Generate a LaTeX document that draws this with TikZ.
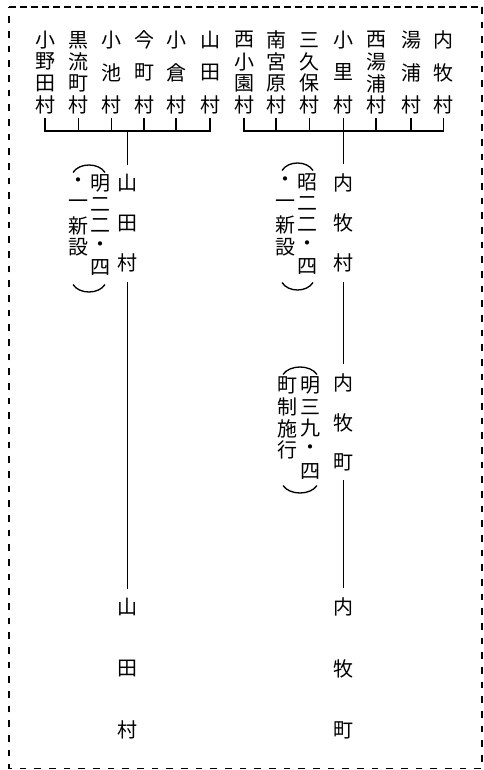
\documentclass[tikz,border=0pt]{standalone}
\usepackage{fontspec}
\setmainfont{Noto Sans CJK JP}
\newcommand\vcol[5]{\foreach \ch [count=\i from 0] in {#5} {\node[ch] (#1-\i) at (#2,{#3+\i*#4}) {\ch};}}
\newcommand\vcolm[5]{\foreach \ch [count=\i from 0] in {#5} {\node[ch,inner ysep=7pt] (#1-\i) at (#2,{#3+\i*#4}) {\ch};}}
\newcommand\parens[4]{%
  \draw[arcline] (#1,{#3+7.5}) .. controls ({#1+0.2*(#2-#1)},{#3-2.5}) and ({#2-0.2*(#2-#1)},{#3-2.5}) .. (#2,{#3+7.5});
  \draw[arcline] (#1,{#4-7.5}) .. controls ({#1+0.2*(#2-#1)},{#4+2.5}) and ({#2-0.2*(#2-#1)},{#4+2.5}) .. (#2,{#4-7.5});}
\begin{document}
\begin{tikzpicture}[x=0.75pt,y=-0.75pt,
  ch/.style={font=\fontsize{15}{15}\selectfont, inner sep=0pt},
  conn/.style={line width=1pt},
  arcline/.style={line width=1pt},
  frame/.style={line width=1pt}]
\useasboundingbox (0,0) rectangle (483,770);
% frame
\draw[frame, dash pattern=on 5.25pt off 3pt] (9,7) -- (482,7);
\draw[frame, dash pattern=on 5pt off 6pt] (482,7) -- (482,768.5) -- (9,768.5) -- (9,7);
% helper coordinates
\coordinate (tt) at (0,118);
\coordinate (lb) at (0,131);
% top villages, left group
\vcol{v1}{45}{40}{21.7}{小,野,田,村}
\vcol{v2}{78.3}{40}{21.7}{黒,流,町,村}
\vcol{v3}{111.7}{40}{32.5}{小,池,村}
\vcol{v4}{144}{40}{32.5}{今,町,村}
\vcol{v5}{176}{40}{32.5}{小,倉,村}
\vcol{v6}{210}{40}{32.5}{山,田,村}
% right group
\vcol{w1}{244}{40}{21.7}{西,小,園,村}
\vcol{w2}{276}{40}{21.7}{南,宮,原,村}
\vcol{w3}{309.3}{40}{21.7}{三,久,保,村}
\vcol{w4}{343.3}{40}{32.5}{小,里,村}
\vcol{w5}{376}{40}{21.7}{西,湯,浦,村}
\vcol{w6}{411}{40}{32.5}{湯,浦,村}
\vcol{w7}{443.3}{40}{32.5}{内,牧,村}
% middle / bottom names
\vcolm{m1}{127.5}{183}{40}{山,田,村}
\vcolm{m2}{343.3}{182.5}{40.3}{内,牧,村}
\vcolm{m3}{343.3}{383}{39.5}{内,牧,町}
\vcolm{b1}{127.5}{607}{61.5}{山,田,村}
\vcolm{b2}{343.3}{607}{61.5}{内,牧,町}
% annotations
\vcol{a1r}{100}{183}{21.2}{明,二,二,・,四}
\vcol{a1l}{78}{183}{21.3}{・,一,新,設}
\parens{73}{105}{165}{292}
\vcol{a2r}{307}{182}{21.2}{昭,二,二,・,四}
\vcol{a2l}{285}{182}{21.7}{・,一,新,設}
\parens{282}{313}{163}{290}
\vcol{a3r}{310}{385}{21.7}{明,三,九,・,四}
\vcol{a3l}{287}{385}{21.7}{町,制,施,行}
\parens{283}{317}{367}{493}
% left bracket
\draw[conn] (v1-0 |- tt) -- (v1-0 |- lb) -- (v6-0 |- lb) -- (v6-0 |- tt);
\foreach \n in {v2,v3,v4,v5} \draw[conn] (\n-0 |- tt) -- (\n-0 |- lb);
\draw[conn] (m1-0 |- lb) -- (m1-0.north);
\draw[conn] (m1-2.south) -- (b1-0.north);
% right bracket
\draw[conn] (w1-0 |- tt) -- (w1-0 |- lb) -- (w7-0 |- lb) -- (w7-0 |- tt);
\foreach \n in {w2,w3,w4,w5,w6} \draw[conn] (\n-0 |- tt) -- (\n-0 |- lb);
\draw[conn] (m2-0 |- lb) -- (m2-0.north);
\draw[conn] (m2-2.south) -- (m3-0.north);
\draw[conn] (m3-2.south) -- (b2-0.north);
\end{tikzpicture}
\end{document}
